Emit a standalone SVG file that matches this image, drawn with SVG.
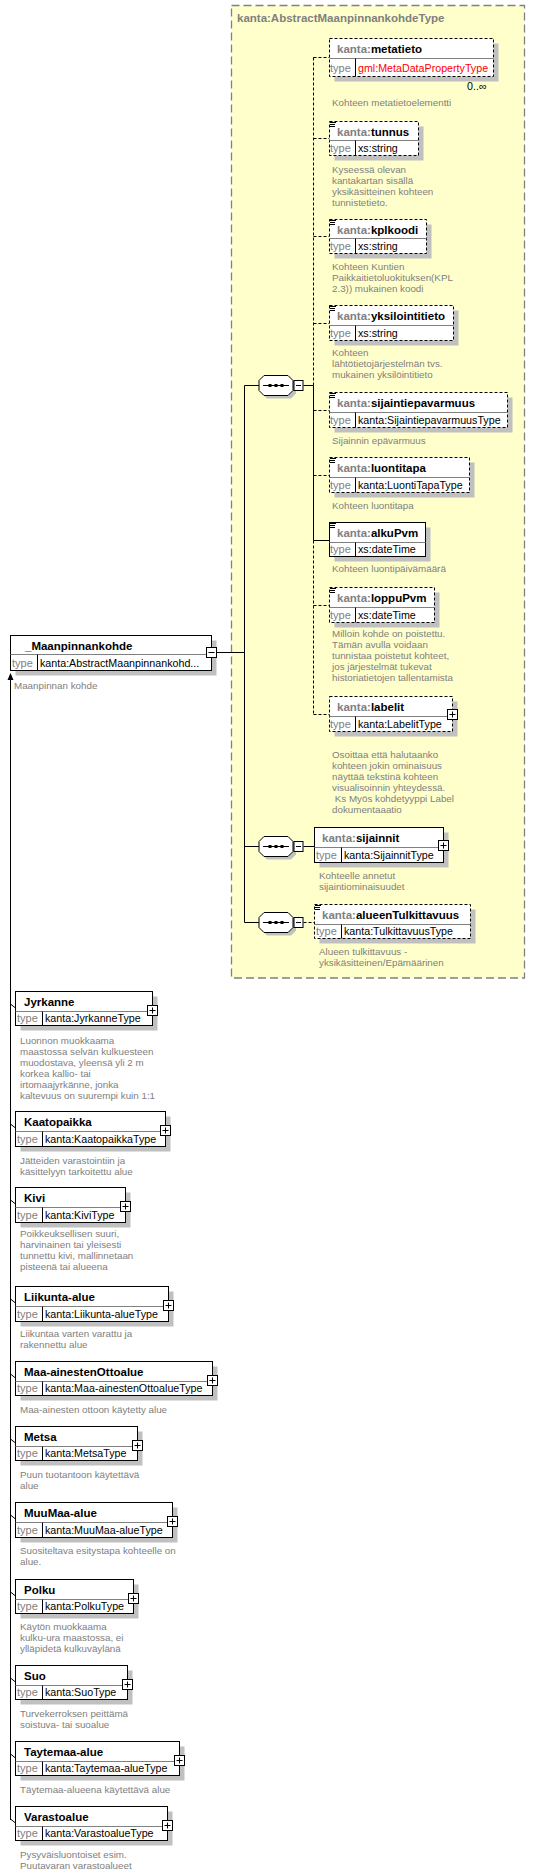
<svg xmlns="http://www.w3.org/2000/svg" width="535" height="1875" viewBox="0 0 535 1875">
<defs>
<style>
.box{fill:#fff;stroke:#000;stroke-width:1}
.dsh{stroke-dasharray:3,2}
.sh{fill:#c0c0c0}
.sep{stroke:#808080;stroke-width:1}
.vs{stroke:#000;stroke-width:1}
.ln{stroke:#000;stroke-width:1;fill:none}
.dl{stroke:#000;stroke-width:1;fill:none;stroke-dasharray:3,2}
.nm{font-family:"Liberation Sans",Arial,sans-serif;font-size:11.5px;font-weight:bold;fill:#000}
.pf{fill:#808080}
.tl{font-family:"Liberation Sans",Arial,sans-serif;font-size:11px;fill:#808080}
.tv{font-family:"Liberation Sans",Arial,sans-serif;font-size:10.7px;fill:#000}
.red{fill:#ff0000}
.ds{font-family:"Liberation Sans",Arial,sans-serif;font-size:9.8px;fill:#808080}
.ttl{font-family:"Liberation Sans",Arial,sans-serif;font-size:11.5px;font-weight:bold;fill:#808080}
.ic{stroke:#000;stroke-width:1}
</style>
<g id="seqsym">
<polygon points="5,-10 29,-10 34,-5 34,5 29,10 5,10 0,5 0,-5" transform="translate(3,3)" class="sh"/>
<polygon points="5,-10 29,-10 34,-5 34,5 29,10 5,10 0,5 0,-5" class="box"/>
<line x1="4" y1="0" x2="30" y2="0" class="ln"/>
<rect x="9.5" y="-1.5" width="3" height="3" fill="#000"/>
<rect x="15.5" y="-1.5" width="3" height="3" fill="#000"/>
<rect x="21.5" y="-1.5" width="3" height="3" fill="#000"/>
<rect x="35" y="-5" width="9" height="10" class="box"/>
<line x1="37" y1="0" x2="42" y2="0" class="ln"/>
</g>
<g id="plus">
<rect x="-5" y="-5" width="10" height="10" class="box"/>
<line x1="-3" y1="0" x2="3" y2="0" class="ln"/>
<line x1="0" y1="-3" x2="0" y2="3" class="ln"/>
</g>
<g id="icon">
<line x1="1" y1="1.5" x2="7" y2="1.5" class="ic"/>
<line x1="1" y1="3.5" x2="6" y2="3.5" class="ic"/>
<line x1="1" y1="5.5" x2="6" y2="5.5" class="ic"/>
</g>
</defs>
<rect x="0" y="0" width="535" height="1875" fill="#fff"/>

<g id="complexType">
<rect x="231.5" y="5.5" width="293" height="972.5" fill="#ffffcc" stroke="#808080" stroke-width="1.3" stroke-dasharray="8,4"/>
<text x="237" y="22" class="ttl">kanta:AbstractMaanpinnankohdeType</text>
</g>

<g id="connectors">
<line x1="216.5" y1="652.5" x2="244.5" y2="652.5" class="ln"/>
<line x1="244.5" y1="385.5" x2="244.5" y2="922.5" class="ln"/>
<line x1="244.5" y1="385.5" x2="259" y2="385.5" class="ln"/>
<line x1="244.5" y1="846.5" x2="259" y2="846.5" class="ln"/>
<line x1="244.5" y1="922.5" x2="259" y2="922.5" class="ln"/>
<line x1="303.5" y1="385.5" x2="313.5" y2="385.5" class="ln"/>
<line x1="313.5" y1="57.5" x2="313.5" y2="385.5" class="dl"/>
<line x1="313.5" y1="385.5" x2="313.5" y2="540.5" class="ln"/>
<line x1="313.5" y1="540.5" x2="313.5" y2="714.5" class="dl"/>
<line x1="313.5" y1="57.5" x2="329.5" y2="57.5" class="dl"/>
<line x1="313.5" y1="138.5" x2="329.5" y2="138.5" class="dl"/>
<line x1="313.5" y1="236.5" x2="329.5" y2="236.5" class="dl"/>
<line x1="313.5" y1="323.5" x2="329.5" y2="323.5" class="dl"/>
<line x1="313.5" y1="410.5" x2="329.5" y2="410.5" class="dl"/>
<line x1="313.5" y1="475.5" x2="329.5" y2="475.5" class="dl"/>
<line x1="313.5" y1="540.5" x2="329.5" y2="540.5" class="ln"/>
<line x1="313.5" y1="605.5" x2="329.5" y2="605.5" class="dl"/>
<line x1="313.5" y1="714.5" x2="329.5" y2="714.5" class="dl"/>
<line x1="303.5" y1="846.5" x2="314.5" y2="846.5" class="ln"/>
<line x1="303.5" y1="922.5" x2="314.5" y2="922.5" class="dl"/>
<line x1="10.5" y1="680" x2="10.5" y2="1820" class="ln"/>
<polygon points="10.5,673 7.5,680 13.5,680" fill="#000"/>
<line x1="10.5" y1="1004" x2="15.5" y2="1008" class="ln"/>
<line x1="10.5" y1="1124" x2="15.5" y2="1128" class="ln"/>
<line x1="10.5" y1="1200" x2="15.5" y2="1204" class="ln"/>
<line x1="10.5" y1="1299" x2="15.5" y2="1303" class="ln"/>
<line x1="10.5" y1="1374" x2="15.5" y2="1378" class="ln"/>
<line x1="10.5" y1="1439" x2="15.5" y2="1443" class="ln"/>
<line x1="10.5" y1="1515" x2="15.5" y2="1519" class="ln"/>
<line x1="10.5" y1="1592" x2="15.5" y2="1596" class="ln"/>
<line x1="10.5" y1="1678" x2="15.5" y2="1682" class="ln"/>
<line x1="10.5" y1="1754" x2="15.5" y2="1758" class="ln"/>
<line x1="10.5" y1="1819" x2="15.5" y2="1823" class="ln"/>
</g>

<g id="seq1"><use href="#seqsym" x="259" y="385.5"/></g>
<g id="seq2"><use href="#seqsym" x="259" y="846.5"/></g>
<g id="seq3"><use href="#seqsym" x="259" y="922.5"/></g>

<g id="Maanpinnankohde">
<rect x="15.5" y="640.5" width="201" height="35" class="sh"/>
<rect x="10.5" y="635.5" width="201" height="35" class="box"/>
<line x1="10.5" y1="654.5" x2="211.5" y2="654.5" class="sep"/>
<line x1="37.5" y1="654.5" x2="37.5" y2="670.5" class="vs"/>
<text x="25" y="650" class="nm">_Maanpinnankohde</text>
<text x="12" y="667" class="tl">type</text>
<text x="40" y="667" class="tv">kanta:AbstractMaanpinnankohd...</text>
<rect x="206.5" y="647.5" width="10" height="10" class="box"/>
<line x1="208.5" y1="652.5" x2="214.5" y2="652.5" class="ln"/>
<text x="14" y="689" class="ds">Maanpinnan kohde</text>
</g>

<g id="metatieto">
<rect x="334.5" y="43.5" width="164" height="38" class="sh"/>
<rect x="329.5" y="38.5" width="164" height="38" class="box dsh"/>
<line x1="329.5" y1="58.5" x2="493.5" y2="58.5" class="sep"/>
<line x1="355.5" y1="58.5" x2="355.5" y2="76.5" class="vs"/>
<text x="337" y="53" class="nm"><tspan class="pf">kanta:</tspan>metatieto</text>
<text x="330" y="72" class="tl">type</text>
<text x="358" y="72" class="tv red">gml:MetaDataPropertyType</text>
<text x="467" y="90" class="tv" font-size="11.5px">0..∞</text>
<text x="332" y="106" class="ds">Kohteen metatietoelementti</text>
</g>

<g id="tunnus">
<rect x="334.5" y="126.5" width="89" height="34" class="sh"/>
<rect x="329.5" y="121.5" width="89" height="34" class="box dsh"/>
<line x1="329.5" y1="140.5" x2="418.5" y2="140.5" class="sep"/>
<line x1="355.5" y1="140.5" x2="355.5" y2="155.5" class="vs"/>
<use href="#icon" x="329" y="121"/>
<text x="337" y="136" class="nm"><tspan class="pf">kanta:</tspan>tunnus</text>
<text x="330" y="152" class="tl">type</text>
<text x="358" y="152" class="tv">xs:string</text>
<text class="ds"><tspan x="332" y="173">Kyseessä olevan</tspan><tspan x="332" y="184">kantakartan sisällä</tspan><tspan x="332" y="195">yksikäsitteinen kohteen</tspan><tspan x="332" y="206">tunnistetieto.</tspan></text>
</g>

<g id="kplkoodi">
<rect x="334.5" y="224.5" width="97" height="34" class="sh"/>
<rect x="329.5" y="219.5" width="97" height="34" class="box dsh"/>
<line x1="329.5" y1="238.5" x2="426.5" y2="238.5" class="sep"/>
<line x1="355.5" y1="238.5" x2="355.5" y2="253.5" class="vs"/>
<use href="#icon" x="329" y="219"/>
<text x="337" y="234" class="nm"><tspan class="pf">kanta:</tspan>kplkoodi</text>
<text x="330" y="250" class="tl">type</text>
<text x="358" y="250" class="tv">xs:string</text>
<text class="ds"><tspan x="332" y="270">Kohteen Kuntien</tspan><tspan x="332" y="281">Paikkaitietoluokituksen(KPL</tspan><tspan x="332" y="292">2.3)) mukainen koodi</tspan></text>
</g>

<g id="yksilointitieto">
<rect x="334.5" y="310.5" width="124" height="35" class="sh"/>
<rect x="329.5" y="305.5" width="124" height="35" class="box dsh"/>
<line x1="329.5" y1="325.5" x2="453.5" y2="325.5" class="sep"/>
<line x1="355.5" y1="325.5" x2="355.5" y2="340.5" class="vs"/>
<use href="#icon" x="329" y="305"/>
<text x="337" y="320" class="nm"><tspan class="pf">kanta:</tspan>yksilointitieto</text>
<text x="330" y="337" class="tl">type</text>
<text x="358" y="337" class="tv">xs:string</text>
<text class="ds"><tspan x="332" y="356">Kohteen</tspan><tspan x="332" y="367">lähtötietojärjestelmän  tvs.</tspan><tspan x="332" y="378">mukainen yksilöintitieto</tspan></text>
</g>

<g id="sijaintiepavarmuus">
<rect x="334.5" y="397.5" width="178" height="35" class="sh"/>
<rect x="329.5" y="392.5" width="178" height="35" class="box dsh"/>
<line x1="329.5" y1="412.5" x2="507.5" y2="412.5" class="sep"/>
<line x1="355.5" y1="412.5" x2="355.5" y2="427.5" class="vs"/>
<use href="#icon" x="329" y="392"/>
<text x="337" y="407" class="nm"><tspan class="pf">kanta:</tspan>sijaintiepavarmuus</text>
<text x="330" y="424" class="tl">type</text>
<text x="358" y="424" class="tv">kanta:SijaintiepavarmuusType</text>
<text x="332" y="444" class="ds">Sijainnin epävarmuus</text>
</g>

<g id="luontitapa">
<rect x="334.5" y="462.5" width="140" height="35" class="sh"/>
<rect x="329.5" y="457.5" width="140" height="35" class="box dsh"/>
<line x1="329.5" y1="477.5" x2="469.5" y2="477.5" class="sep"/>
<line x1="355.5" y1="477.5" x2="355.5" y2="492.5" class="vs"/>
<use href="#icon" x="329" y="457"/>
<text x="337" y="472" class="nm"><tspan class="pf">kanta:</tspan>luontitapa</text>
<text x="330" y="489" class="tl">type</text>
<text x="358" y="489" class="tv">kanta:LuontiTapaType</text>
<text x="332" y="509" class="ds">Kohteen luontitapa</text>
</g>

<g id="alkuPvm">
<rect x="334.5" y="527.5" width="96" height="34" class="sh"/>
<rect x="329.5" y="522.5" width="96" height="34" class="box"/>
<line x1="329.5" y1="542.5" x2="425.5" y2="542.5" class="sep"/>
<line x1="355.5" y1="542.5" x2="355.5" y2="556.5" class="vs"/>
<use href="#icon" x="329" y="522"/>
<text x="337" y="537" class="nm"><tspan class="pf">kanta:</tspan>alkuPvm</text>
<text x="330" y="553" class="tl">type</text>
<text x="358" y="553" class="tv">xs:dateTime</text>
<text x="332" y="572" class="ds">Kohteen luontipäivämäärä</text>
</g>

<g id="loppuPvm">
<rect x="334.5" y="592.5" width="105" height="35" class="sh"/>
<rect x="329.5" y="587.5" width="105" height="35" class="box dsh"/>
<line x1="329.5" y1="607.5" x2="434.5" y2="607.5" class="sep"/>
<line x1="355.5" y1="607.5" x2="355.5" y2="622.5" class="vs"/>
<use href="#icon" x="329" y="587"/>
<text x="337" y="602" class="nm"><tspan class="pf">kanta:</tspan>loppuPvm</text>
<text x="330" y="619" class="tl">type</text>
<text x="358" y="619" class="tv">xs:dateTime</text>
<text class="ds"><tspan x="332" y="637">Milloin kohde on poistettu.</tspan><tspan x="332" y="648">Tämän avulla voidaan</tspan><tspan x="332" y="659">tunnistaa poistetut kohteet,</tspan><tspan x="332" y="670">jos järjestelmät tukevat</tspan><tspan x="332" y="681">historiatietojen tallentamista</tspan></text>
</g>

<g id="labelit">
<rect x="334.5" y="701.5" width="123" height="35" class="sh"/>
<rect x="329.5" y="696.5" width="123" height="35" class="box dsh"/>
<line x1="329.5" y1="716.5" x2="452.5" y2="716.5" class="sep"/>
<line x1="355.5" y1="716.5" x2="355.5" y2="731.5" class="vs"/>
<text x="337" y="711" class="nm"><tspan class="pf">kanta:</tspan>labelit</text>
<text x="330" y="728" class="tl">type</text>
<text x="358" y="728" class="tv">kanta:LabelitType</text>
<use href="#plus" x="452.5" y="714.5"/>
<text class="ds"><tspan x="332" y="758">Osoittaa että halutaanko</tspan><tspan x="332" y="769">kohteen jokin ominaisuus</tspan><tspan x="332" y="780">näyttää tekstinä kohteen</tspan><tspan x="332" y="791">visualisoinnin yhteydessä.</tspan><tspan x="332" y="802"> Ks Myös kohdetyyppi Label</tspan><tspan x="332" y="813">dokumentaaatio</tspan></text>
</g>

<g id="sijainnit">
<rect x="319.5" y="832.5" width="129" height="35" class="sh"/>
<rect x="314.5" y="827.5" width="129" height="35" class="box"/>
<line x1="314.5" y1="847.5" x2="443.5" y2="847.5" class="sep"/>
<line x1="341.5" y1="847.5" x2="341.5" y2="862.5" class="vs"/>
<text x="322" y="842" class="nm"><tspan class="pf">kanta:</tspan>sijainnit</text>
<text x="316" y="859" class="tl">type</text>
<text x="344" y="859" class="tv">kanta:SijainnitType</text>
<use href="#plus" x="443.5" y="845.5"/>
<text class="ds"><tspan x="319" y="879">Kohteelle annetut</tspan><tspan x="319" y="890">sijaintiominaisuudet</tspan></text>
</g>

<g id="alueenTulkittavuus">
<rect x="319.5" y="909.5" width="156" height="34" class="sh"/>
<rect x="314.5" y="904.5" width="156" height="34" class="box dsh"/>
<line x1="314.5" y1="924.5" x2="470.5" y2="924.5" class="sep"/>
<line x1="341.5" y1="924.5" x2="341.5" y2="938.5" class="vs"/>
<use href="#icon" x="314" y="904"/>
<text x="322" y="919" class="nm"><tspan class="pf">kanta:</tspan>alueenTulkittavuus</text>
<text x="316" y="935" class="tl">type</text>
<text x="344" y="935" class="tv">kanta:TulkittavuusType</text>
<text class="ds"><tspan x="319" y="955">Alueen tulkittavuus -</tspan><tspan x="319" y="966">yksikäsitteinen/Epämäärinen</tspan></text>
</g>

<g id="Jyrkanne">
<rect x="20.5" y="996.5" width="137" height="34" class="sh"/>
<rect x="15.5" y="991.5" width="137" height="34" class="box"/>
<line x1="15.5" y1="1011.5" x2="152.5" y2="1011.5" class="sep"/>
<line x1="42.5" y1="1011.5" x2="42.5" y2="1025.5" class="vs"/>
<text x="24" y="1006" class="nm">Jyrkanne</text>
<text x="17" y="1022" class="tl">type</text>
<text x="45" y="1022" class="tv">kanta:JyrkanneType</text>
<use href="#plus" x="152.5" y="1010.5"/>
<text class="ds"><tspan x="20" y="1044">Luonnon muokkaama</tspan><tspan x="20" y="1055">maastossa selvän kulkuesteen</tspan><tspan x="20" y="1066">muodostava, yleensä yli 2 m</tspan><tspan x="20" y="1077">korkea kallio- tai</tspan><tspan x="20" y="1088">irtomaajyrkänne, jonka</tspan><tspan x="20" y="1099">kaltevuus on suurempi kuin 1:1</tspan></text>
</g>

<g id="Kaatopaikka">
<rect x="20.5" y="1116.5" width="150" height="35" class="sh"/>
<rect x="15.5" y="1111.5" width="150" height="35" class="box"/>
<line x1="15.5" y1="1131.5" x2="165.5" y2="1131.5" class="sep"/>
<line x1="42.5" y1="1131.5" x2="42.5" y2="1146.5" class="vs"/>
<text x="24" y="1126" class="nm">Kaatopaikka</text>
<text x="17" y="1143" class="tl">type</text>
<text x="45" y="1143" class="tv">kanta:KaatopaikkaType</text>
<use href="#plus" x="165.5" y="1130.5"/>
<text class="ds"><tspan x="20" y="1164">Jätteiden varastointiin ja</tspan><tspan x="20" y="1175">käsittelyyn tarkoitettu alue</tspan></text>
</g>

<g id="Kivi">
<rect x="20.5" y="1192.5" width="110" height="35" class="sh"/>
<rect x="15.5" y="1187.5" width="110" height="35" class="box"/>
<line x1="15.5" y1="1207.5" x2="125.5" y2="1207.5" class="sep"/>
<line x1="42.5" y1="1207.5" x2="42.5" y2="1222.5" class="vs"/>
<text x="24" y="1202" class="nm">Kivi</text>
<text x="17" y="1219" class="tl">type</text>
<text x="45" y="1219" class="tv">kanta:KiviType</text>
<use href="#plus" x="125.5" y="1206.5"/>
<text class="ds"><tspan x="20" y="1237">Poikkeuksellisen suuri,</tspan><tspan x="20" y="1248">harvinainen tai yleisesti</tspan><tspan x="20" y="1259">tunnettu kivi, mallinnetaan</tspan><tspan x="20" y="1270">pisteenä tai alueena</tspan></text>
</g>

<g id="Liikunta-alue">
<rect x="20.5" y="1291.5" width="153" height="35" class="sh"/>
<rect x="15.5" y="1286.5" width="153" height="35" class="box"/>
<line x1="15.5" y1="1306.5" x2="168.5" y2="1306.5" class="sep"/>
<line x1="42.5" y1="1306.5" x2="42.5" y2="1321.5" class="vs"/>
<text x="24" y="1301" class="nm">Liikunta-alue</text>
<text x="17" y="1318" class="tl">type</text>
<text x="45" y="1318" class="tv">kanta:Liikunta-alueType</text>
<use href="#plus" x="168.5" y="1305.5"/>
<text class="ds"><tspan x="20" y="1337">Liikuntaa varten varattu ja</tspan><tspan x="20" y="1348">rakennettu alue</tspan></text>
</g>

<g id="Maa-ainestenOttoalue">
<rect x="20.5" y="1366.5" width="197" height="34" class="sh"/>
<rect x="15.5" y="1361.5" width="197" height="34" class="box"/>
<line x1="15.5" y1="1381.5" x2="212.5" y2="1381.5" class="sep"/>
<line x1="42.5" y1="1381.5" x2="42.5" y2="1395.5" class="vs"/>
<text x="24" y="1376" class="nm">Maa-ainestenOttoalue</text>
<text x="17" y="1392" class="tl">type</text>
<text x="45" y="1392" class="tv">kanta:Maa-ainestenOttoalueType</text>
<use href="#plus" x="212.5" y="1380.5"/>
<text x="20" y="1413" class="ds">Maa-ainesten ottoon käytetty alue</text>
</g>

<g id="Metsa">
<rect x="20.5" y="1431.5" width="122" height="34" class="sh"/>
<rect x="15.5" y="1426.5" width="122" height="34" class="box"/>
<line x1="15.5" y1="1446.5" x2="137.5" y2="1446.5" class="sep"/>
<line x1="42.5" y1="1446.5" x2="42.5" y2="1460.5" class="vs"/>
<text x="24" y="1441" class="nm">Metsa</text>
<text x="17" y="1457" class="tl">type</text>
<text x="45" y="1457" class="tv">kanta:MetsaType</text>
<use href="#plus" x="137.5" y="1445.5"/>
<text class="ds"><tspan x="20" y="1478">Puun tuotantoon käytettävä</tspan><tspan x="20" y="1489">alue</tspan></text>
</g>

<g id="MuuMaa-alue">
<rect x="20.5" y="1507.5" width="157" height="35" class="sh"/>
<rect x="15.5" y="1502.5" width="157" height="35" class="box"/>
<line x1="15.5" y1="1522.5" x2="172.5" y2="1522.5" class="sep"/>
<line x1="42.5" y1="1522.5" x2="42.5" y2="1537.5" class="vs"/>
<text x="24" y="1517" class="nm">MuuMaa-alue</text>
<text x="17" y="1534" class="tl">type</text>
<text x="45" y="1534" class="tv">kanta:MuuMaa-alueType</text>
<use href="#plus" x="172.5" y="1521.5"/>
<text class="ds"><tspan x="20" y="1554">Suositeltava esitystapa kohteelle on</tspan><tspan x="20" y="1565">alue.</tspan></text>
</g>

<g id="Polku">
<rect x="20.5" y="1584.5" width="118" height="34" class="sh"/>
<rect x="15.5" y="1579.5" width="118" height="34" class="box"/>
<line x1="15.5" y1="1599.5" x2="133.5" y2="1599.5" class="sep"/>
<line x1="42.5" y1="1599.5" x2="42.5" y2="1613.5" class="vs"/>
<text x="24" y="1594" class="nm">Polku</text>
<text x="17" y="1610" class="tl">type</text>
<text x="45" y="1610" class="tv">kanta:PolkuType</text>
<use href="#plus" x="133.5" y="1598.5"/>
<text class="ds"><tspan x="20" y="1630">Käytön muokkaama</tspan><tspan x="20" y="1641">kulku-ura maastossa, ei</tspan><tspan x="20" y="1652">ylläpidetä kulkuväylänä</tspan></text>
</g>

<g id="Suo">
<rect x="20.5" y="1670.5" width="112" height="34" class="sh"/>
<rect x="15.5" y="1665.5" width="112" height="34" class="box"/>
<line x1="15.5" y1="1685.5" x2="127.5" y2="1685.5" class="sep"/>
<line x1="42.5" y1="1685.5" x2="42.5" y2="1699.5" class="vs"/>
<text x="24" y="1680" class="nm">Suo</text>
<text x="17" y="1696" class="tl">type</text>
<text x="45" y="1696" class="tv">kanta:SuoType</text>
<use href="#plus" x="127.5" y="1684.5"/>
<text class="ds"><tspan x="20" y="1717">Turvekerroksen peittämä</tspan><tspan x="20" y="1728">soistuva- tai suoalue</tspan></text>
</g>

<g id="Taytemaa-alue">
<rect x="20.5" y="1746.5" width="164" height="34" class="sh"/>
<rect x="15.5" y="1741.5" width="164" height="34" class="box"/>
<line x1="15.5" y1="1761.5" x2="179.5" y2="1761.5" class="sep"/>
<line x1="42.5" y1="1761.5" x2="42.5" y2="1775.5" class="vs"/>
<text x="24" y="1756" class="nm">Taytemaa-alue</text>
<text x="17" y="1772" class="tl">type</text>
<text x="45" y="1772" class="tv">kanta:Taytemaa-alueType</text>
<use href="#plus" x="179.5" y="1760.5"/>
<text x="20" y="1793" class="ds">Täytemaa-alueena käytettävä alue</text>
</g>

<g id="Varastoalue">
<rect x="20.5" y="1811.5" width="152" height="34" class="sh"/>
<rect x="15.5" y="1806.5" width="152" height="34" class="box"/>
<line x1="15.5" y1="1826.5" x2="167.5" y2="1826.5" class="sep"/>
<line x1="42.5" y1="1826.5" x2="42.5" y2="1840.5" class="vs"/>
<text x="24" y="1821" class="nm">Varastoalue</text>
<text x="17" y="1837" class="tl">type</text>
<text x="45" y="1837" class="tv">kanta:VarastoalueType</text>
<use href="#plus" x="167.5" y="1825.5"/>
<text class="ds"><tspan x="20" y="1858">Pysyväisluontoiset esim.</tspan><tspan x="20" y="1869">Puutavaran varastoalueet</tspan></text>
</g>
</svg>
